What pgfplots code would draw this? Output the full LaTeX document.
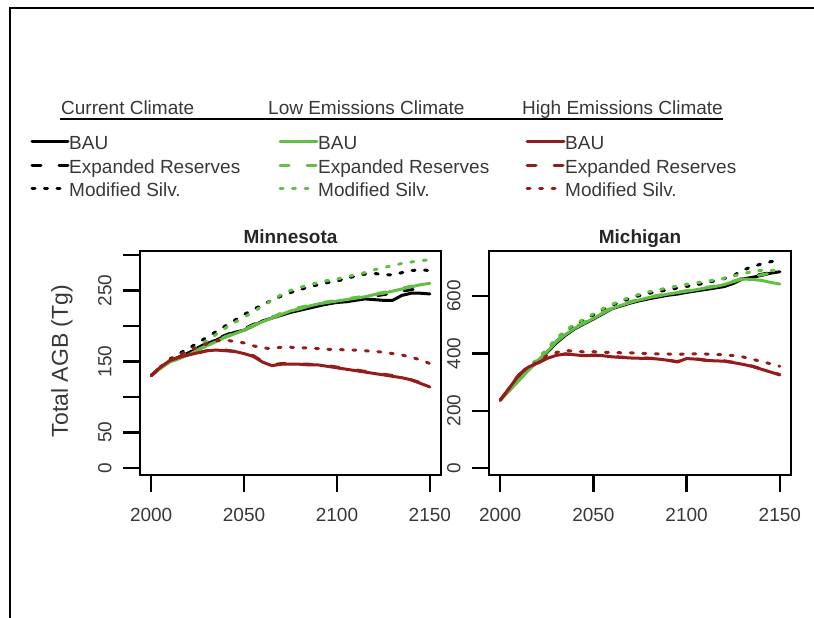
\documentclass[border=0pt]{standalone}
\usepackage{pgfplots}
\usepackage{pgfplotstable}
\pgfplotsset{compat=1.18}
\usepackage{fontspec}
\setmainfont{Liberation Sans}
\definecolor{cgreen}{RGB}{99,190,70}
\definecolor{cred}{RGB}{150,28,28}
\definecolor{tgray}{RGB}{56,56,56}
\newcommand\tf{\fontsize{19}{22}\selectfont}

\pgfplotstableread{
year cBAU cER cMS lBAU lER lMS hBAU hER hMS
2000 130 130 130 130 130 130 130 130 130
2005 141 141 142 140 140 141 142 142 142
2010 150 150 153 149 149 151 151 151 152
2015 156 156 161 154 154 158 156 156 159
2020 162 162 168 159 160 164 159 159 165
2025 168 169 176 166 166 171 162 162 170
2030 175 176 184 172 173 179 165 165 175
2035 180 181 192 178 179 188 166 166 179
2040 186 187 200 184 185 197 165 166 180
2045 191 192 208 189 190 205 164 164 178
2050 194 196 216 194 195 212 161 162 176
2055 200 202 223 200 201 220 157 158 172
2060 207 208 230 206 207 228 149 150 169
2065 211 212 236 211 212 236 144 145 168
2070 215 216 242 216 218 244 146 147 170
2075 219 220 247 221 222 250 146 147 170
2080 222 223 251 224 226 254 146 146 169
2085 225 226 255 228 229 258 145 146 169
2090 228 229 258 231 232 261 145 145 168
2095 231 231 261 233 234 264 143 144 167
2100 233 234 263 235 236 266 141 142 167
2105 234 236 267 237 238 269 139 140 166
2110 236 238 270 239 240 272 137 138 166
2115 238 240 273 241 242 275 135 136 165
2120 237 242 274 244 245 279 133 134 164
2125 236 244 272 246 247 282 131 132 163
2130 236 246 272 249 250 285 129 130 161
2135 243 249 275 252 253 288 127 127 159
2140 246 251 278 255 256 290 124 124 156
2145 246 253 279 258 258 292 119 120 152
2150 245 255 278 260 261 293 114 115 147
}\mn

\pgfplotstableread{
year cBAU cER cMS lBAU lER lMS hBAU hER hMS
2000 237 237 237 237 237 237 237 237 237
2005 273 273 275 270 270 272 280 280 281
2010 310 310 314 305 305 310 325 325 326
2015 343 344 348 340 341 346 352 352 354
2020 372 373 380 372 373 380 366 366 368
2025 402 404 412 405 407 415 382 382 392
2030 436 439 449 440 443 452 393 393 403
2035 463 466 476 466 469 480 398 398 410
2040 486 489 499 488 491 502 395 396 408
2045 503 506 516 505 508 520 392 393 405
2050 520 523 534 522 525 538 393 394 406
2055 538 541 552 540 543 556 392 393 404
2060 556 558 568 557 560 571 388 389 404
2065 566 568 580 568 570 585 386 387 402
2070 576 579 593 578 581 597 384 385 402
2075 584 587 602 587 590 607 383 384 400
2080 591 594 610 595 597 615 383 383 400
2085 597 600 616 601 603 622 380 381 398
2090 603 606 622 607 609 629 376 377 398
2095 607 611 628 612 614 635 370 371 396
2100 613 616 634 617 619 641 382 383 399
2105 618 621 639 622 624 646 380 381 398
2110 623 626 646 628 630 651 376 377 398
2115 628 631 653 633 635 656 374 375 396
2120 633 636 661 640 642 662 373 374 396
2125 644 647 671 650 652 670 368 369 392
2130 660 663 690 660 662 678 362 363 388
2135 665 670 702 658 668 685 355 356 380
2140 672 676 712 655 674 690 345 346 372
2145 680 682 720 648 680 690 335 336 364
2150 685 688 726 642 685 688 325 326 355
}\mi

\tikzset{
  bau/.style={line width=3pt, solid, line cap=round, line join=round},
  er/.style={line width=3pt, dash pattern=on 9pt off 18pt, line cap=round, line join=round},
  ms/.style={line width=3pt, dash pattern=on 3pt off 9.5pt, line cap=round, line join=round},
}
\pgfplotsset{
  rstyle/.style={
    anchor=south west, scale only axis, height=224pt,
    xmin=1994, xmax=2156,
    axis line style={line width=2.2pt},
    every tick/.style={line width=2.4pt, black},
    tick align=outside, major tick length=17pt,
    xtick pos=bottom, ytick pos=left,
    xtick={2000,2050,2100,2150}, xticklabels={2000,2050,2100,2150},
    ticklabel style={font=\tf, text=tgray},
    xticklabel style={anchor=north, yshift=-13pt},
    yticklabel style={xshift=-8pt, rotate=90, anchor=south},
    every axis plot/.append style={mark=none},
  }
}

\begin{document}
\begin{tikzpicture}[x=1pt,y=1pt]
\useasboundingbox (0,0) rectangle (814,618);
\draw[line width=2pt] (10.3,0) -- (10.3,610.3) -- (814,610.3);

% legend headers
\node[font=\tf, text=tgray, anchor=base west, inner sep=0] at (61,503) {Current Climate};
\node[font=\tf, text=tgray, anchor=base west, inner sep=0] at (268,503) {Low Emissions Climate};
\node[font=\tf, text=tgray, anchor=base west, inner sep=0] at (522,503) {High Emissions Climate};
\draw[line width=2pt, black] (60,498.8) -- (723,498.8);

% legend entries
\foreach \c/\xa/\xb in {black/32/68, cgreen/280/317, cred/527/564}{
  \draw[\c, bau] (\xa,476) -- (\xb,476);
  \draw[\c, er] (\xa,452.5) -- (\xb,452.5);
  \draw[\c, ms] (\xa,429) -- (\xb,429);
  \node[font=\tf, text=tgray, anchor=base west, inner sep=0] at (\xb+1,468) {BAU};
  \node[font=\tf, text=tgray, anchor=base west, inner sep=0] at (\xb+1,444.7) {Expanded Reserves};
  \node[font=\tf, text=tgray, anchor=base west, inner sep=0] at (\xb+1,421.3) {Modified Silv.};
}

\begin{axis}[rstyle, at={(140pt,143pt)}, width=301pt,
  ymin=-10, ymax=305.5,
  ytick={0,50,100,150,200,250,300}, yticklabels={0,50,,150,,250,}]
\addplot[black, bau] table[x=year, y=cBAU] {\mn};
\addplot[black, er] table[x=year, y=cER] {\mn};
\addplot[black, ms] table[x=year, y=cMS] {\mn};
\addplot[cgreen, bau] table[x=year, y=lBAU] {\mn};
\addplot[cgreen, er] table[x=year, y=lER] {\mn};
\addplot[cgreen, ms] table[x=year, y=lMS] {\mn};
\addplot[cred, bau] table[x=year, y=hBAU] {\mn};
\addplot[cred, er] table[x=year, y=hER] {\mn};
\addplot[cred, ms] table[x=year, y=hMS] {\mn};
\end{axis}

\begin{axis}[rstyle, at={(489pt,143pt)}, width=302pt,
  ymin=-24.4, ymax=757.4,
  ytick={0,200,400,600}, yticklabels={0,200,400,600}]
\addplot[black, bau] table[x=year, y=cBAU] {\mi};
\addplot[black, er] table[x=year, y=cER] {\mi};
\addplot[black, ms] table[x=year, y=cMS] {\mi};
\addplot[cgreen, bau] table[x=year, y=lBAU] {\mi};
\addplot[cgreen, er] table[x=year, y=lER] {\mi};
\addplot[cgreen, ms] table[x=year, y=lMS] {\mi};
\addplot[cred, bau] table[x=year, y=hBAU] {\mi};
\addplot[cred, er] table[x=year, y=hER] {\mi};
\addplot[cred, ms] table[x=year, y=hMS] {\mi};
\end{axis}

\node[font=\bfseries\tf, text=black!85, anchor=base] at (290.5,374.5) {Minnesota};
\node[font=\bfseries\tf, text=black!85, anchor=base] at (640,374.5) {Michigan};
\node[rotate=90, font=\fontsize{23}{26}\selectfont, text=tgray] at (62,257) {Total AGB (Tg)};
\end{tikzpicture}
\end{document}
